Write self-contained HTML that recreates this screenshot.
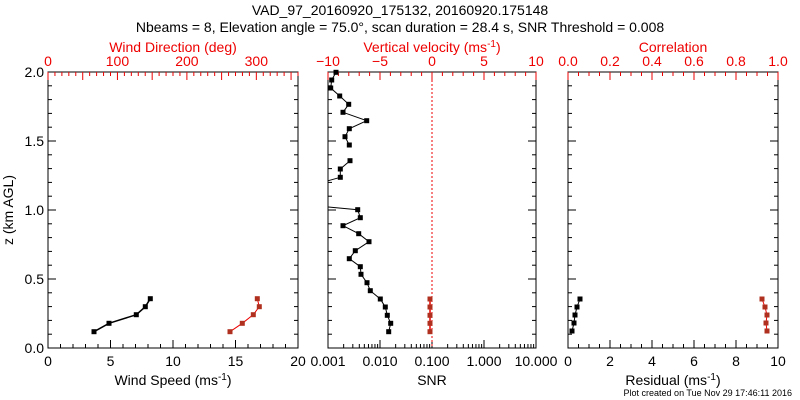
<!DOCTYPE html>
<html><head><meta charset="utf-8"><style>
html,body{margin:0;padding:0;background:#fff;}
svg{display:block;font-family:"Liberation Sans","DejaVu Sans",sans-serif;}
</style></head><body>
<svg id="s" width="800" height="400" viewBox="0 0 800 400" xmlns="http://www.w3.org/2000/svg">
<rect width="800" height="400" fill="#fff"/>
<text x="400" y="15" font-size="14" text-anchor="middle">VAD_97_20160920_175132, 20160920.175148</text>
<text x="400" y="32" font-size="14" text-anchor="middle">Nbeams = 8, Elevation angle = 75.0°, scan duration = 28.4 s, SNR Threshold = 0.008</text>
<text x="792" y="396" font-size="9" text-anchor="end">Plot created on Tue Nov 29 17:46:11 2016</text>
<g id="g"></g>
</svg>
<script>
var g=document.getElementById('g'),h='';
var Y0=348,Y1=72;
function ln(x1,y1,x2,y2,c,w,d){h+='<line x1="'+x1+'" y1="'+y1+'" x2="'+x2+'" y2="'+y2+'" stroke="'+(c||'#000')+'" stroke-width="'+(w||1)+'"'+(d?' stroke-dasharray="'+d+'"':'')+'/>';}
function tx(x,y,t,c,s,a){h+='<text x="'+x+'" y="'+y+'" font-size="'+(s||14)+'" fill="'+(c||'#000')+'" text-anchor="'+(a||'middle')+'">'+t+'</text>';}
function box(x0,x1){h+='<rect x="'+x0+'" y="'+Y1+'" width="'+(x1-x0)+'" height="'+(Y0-Y1)+'" fill="none" stroke="#000"/>';}
function yt(x0,x1,lab){for(var i=0;i<=20;i++){var y=Y0-i*(Y0-Y1)/20,L=i%5==0?8:4;ln(x0,y,x0+L,y);ln(x1,y,x1-L,y);if(lab&&i%5==0)tx(x0-4,y+5,(i/10).toFixed(1),'#000',14,'end');}}
function xt(x0,x1,n,minor,labs,y,dir,col){var N=n*minor;for(var i=0;i<=N;i++){var x=x0+i*(x1-x0)/N,L=i%minor==0?8:4;ln(x,y,x,y+dir*L,col);}
 for(var j=0;j<labs.length;j++){var x=x0+j*(x1-x0)/n;tx(x,dir<0?y+18:y-6,labs[j],col,14);}}
function pts(a,c,lc,w){var s='';for(var i=0;i<a.length;i++)s+=a[i][0]+','+a[i][1]+' ';h+='<polyline points="'+s+'" fill="none" stroke="'+lc+'" stroke-width="'+(w||1)+'"/>';for(var i=0;i<a.length;i++)h+='<rect x="'+(a[i][0]-2.5)+'" y="'+(a[i][1]-2.5)+'" width="5" height="5" fill="'+c+'"/>';}
box(48,298);yt(48,298,true);
xt(48,298,4,5,['0','5','10','15','20'],Y0,-1,'#000');
for(var i=0;i<=36;i++){var x=48+i*250/36,L=i%5==0?8:4;ln(x,Y1,x,Y1+L,'#e00');}
[0,100,200,300].forEach(function(v){tx(48+v*250/360,Y1-6,v,'#e00',14);});
tx(173,52,'Wind Direction (deg)','#e00',14);
tx(173,385,'Wind Speed (ms<tspan font-size="10" dy="-5">-1</tspan><tspan dy="5">)</tspan>','#000',14);
h+='<text x="13" y="210" font-size="14" text-anchor="middle" transform="rotate(-90 13 210)">z (km AGL)</text>';
pts([[94,331.7],[109,323.3],[136.3,314.7],[145.3,306.7],[150.3,298.7]],'#000','#000',1.5);
pts([[230,331.7],[242.3,323.3],[253.3,314.7],[259.3,306.7],[257.3,298.7]],'#b03020','#e00',1);
box(328,536);yt(328,536,false);
for(var d=0;d<4;d++){for(var k=1;k<10;k++){var x=328+52*(d+Math.log10(k));ln(x,Y0,x,Y0-(k==1?8:4));}}ln(536,Y0,536,Y0-8);
['0.001','0.010','0.100','1.000','10.000'].forEach(function(t,j){tx(328+52*j,Y0+18,t,'#000',14);});
xt(328,536,4,5,['\u221210','\u22125','0','5','10'],Y1,1,'#e00');
ln(432,Y1,432,Y0,'#e00',1,'2,2');
tx(432,52,'Vertical velocity (ms<tspan font-size="10" dy="-5">-1</tspan><tspan dy="5">)</tspan>','#e00',14);
tx(432,385,'SNR','#000',14);
pts([[336,72.3],[331.7,80],[330.7,88],[339.7,96],[348.7,104.3],[343,112.3],[366.7,120.7],[349.3,128.7],[345,136.7],[349.3,145]],'#000','#000');
pts([[350,160.7],[340.3,169],[340.3,177.3]],'#000','#000');ln(340.3,177.3,328.3,180.7);
ln(328.3,207,357.7,209.7);
pts([[357.7,209.7],[360.3,217.7],[343,225.7],[358.7,233.7],[369,241.7],[355.3,250.7],[349.3,258.7],[360.3,266.7],[361,274.3],[367,282.7],[370.3,290.7],[380.3,299],[385.3,307],[387.3,315.3],[390.7,323.3],[388.7,331.7]],'#000','#000');
pts([[430,299],[430,307],[430,315.3],[430,323.3],[430,331.7]],'#b03020','#e00',1.5);
box(568,778);yt(568,778,false);
xt(568,778,5,4,['0','2','4','6','8','10'],Y0,-1,'#000');
xt(568,778,5,4,['0.0','0.2','0.4','0.6','0.8','1.0'],Y1,1,'#e00');
tx(673,52,'Correlation','#e00',14);
tx(673,385,'Residual (ms<tspan font-size="10" dy="-5">-1</tspan><tspan dy="5">)</tspan>','#000',14);
pts([[572,331],[574,323],[575,315],[577,307],[580,299]],'#000','#000');
pts([[767,331],[766,323],[767,315],[765,307],[762,299]],'#b03020','#e00');
g.innerHTML=h;
</script>
</body></html>
